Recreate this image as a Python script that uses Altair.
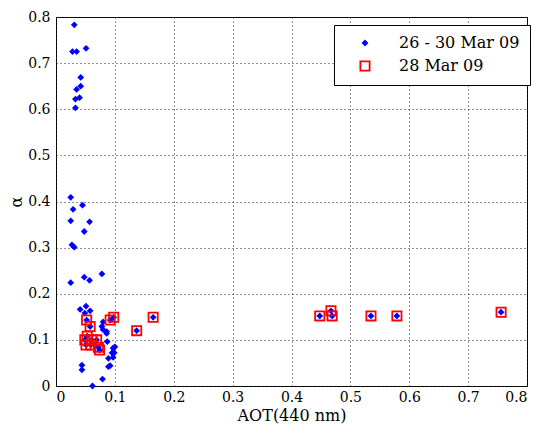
import altair as alt
import pandas as pd

# 26 - 30 Mar 09 (blue dots)
blue_x = [0.031, 0.028, 0.035, 0.051, 0.042, 0.035, 0.042, 0.033, 0.040, 0.033,
          0.025, 0.045, 0.029, 0.025, 0.057, 0.048, 0.027, 0.031,
          0.025, 0.048, 0.057, 0.078,
          0.051, 0.041, 0.058, 0.049, 0.080, 0.078, 0.080, 0.086, 0.087, 0.097,
          0.095, 0.089, 0.097, 0.089, 0.092, 0.044, 0.044, 0.079, 0.062, 0.086,
          0.100, 0.099,
          0.052, 0.058, 0.049, 0.053, 0.051, 0.069, 0.072, 0.074, 0.061, 0.059,
          0.092, 0.098, 0.137, 0.165, 0.448, 0.467, 0.469, 0.535, 0.579, 0.756]
blue_y = [0.783, 0.725, 0.725, 0.732, 0.669, 0.643, 0.650, 0.622, 0.625, 0.603,
          0.409, 0.392, 0.383, 0.358, 0.356, 0.335, 0.306, 0.301,
          0.224, 0.236, 0.229, 0.243,
          0.173, 0.166, 0.163, 0.158, 0.139, 0.129, 0.122, 0.118, 0.096, 0.082,
          0.072, 0.060, 0.062, 0.042, 0.044, 0.045, 0.035, 0.015, 0.000, 0.114,
          0.085, 0.072,
          0.143, 0.129, 0.100, 0.108, 0.089, 0.100, 0.084, 0.078, 0.100, 0.089,
          0.143, 0.149, 0.120, 0.149, 0.152, 0.163, 0.152, 0.152, 0.152, 0.160]

# 28 Mar 09 (red squares)
red_x = [0.052, 0.058, 0.049, 0.053, 0.051, 0.069, 0.072, 0.074, 0.061, 0.059,
         0.092, 0.098, 0.137, 0.165, 0.448, 0.467, 0.469, 0.535, 0.579, 0.756]
red_y = [0.143, 0.129, 0.100, 0.108, 0.089, 0.100, 0.084, 0.078, 0.100, 0.089,
         0.143, 0.149, 0.120, 0.149, 0.152, 0.163, 0.152, 0.152, 0.152, 0.160]

series_names = ["26 - 30 Mar 09", "28 Mar 09"]
tick_values = [0, 0.1, 0.2, 0.3, 0.4, 0.5, 0.6, 0.7, 0.8]

df = pd.DataFrame({
    "aot": blue_x + red_x,
    "alpha": blue_y + red_y,
    "series": [series_names[0]] * len(blue_x) + [series_names[1]] * len(red_x),
})

FONT = "DejaVu Serif"
label_expr = "datum.value == 0 ? '0' : format(datum.value, '.1f')"

leg = alt.Legend(
    title=None, orient="none", legendX=278, legendY=8,
    strokeColor="black", fillColor="white", padding=10,
    labelFont=FONT, labelFontSize=16, labelColor="black",
    symbolStrokeWidth=1.8, rowPadding=6, labelOffset=26,
    symbolOffset=13,
)

chart = alt.Chart(df).mark_point(opacity=1, strokeWidth=1.8).encode(
    x=alt.X("aot:Q", scale=alt.Scale(domain=[0, 0.8], nice=False, zero=False),
            axis=alt.Axis(values=tick_values, title="AOT(440 nm)", labelExpr=label_expr)),
    y=alt.Y("alpha:Q", scale=alt.Scale(domain=[0, 0.8], nice=False, zero=False),
            axis=alt.Axis(values=tick_values, title="α", labelExpr=label_expr)),
    shape=alt.Shape("series:N", scale=alt.Scale(domain=series_names, range=["diamond", "square"]), legend=leg),
    fill=alt.Fill("series:N", scale=alt.Scale(domain=series_names, range=["#0000ff", "transparent"]), legend=leg),
    stroke=alt.Stroke("series:N", scale=alt.Scale(domain=series_names, range=["#0000ff", "#ff0000"]), legend=leg),
    size=alt.Size("series:N", scale=alt.Scale(domain=series_names, range=[18, 85]), legend=leg),
).properties(
    width=471, height=369,
    autosize=alt.AutoSizeParams(type="none"),
    padding={"left": 48, "top": 9, "right": 6, "bottom": 42},
).configure(
    font=FONT,
).configure_legend(
    labelFont=FONT, labelFontSize=16, labelColor="black",
).configure_view(
    stroke="black", strokeWidth=1, fill="white"
).configure_axis(
    domain=False, ticks=False,
    grid=True, gridColor="#222222", gridDash=[1, 3], gridWidth=1, gridOpacity=1,
    labelFont=FONT, labelFontSize=14, labelColor="black",
    titleFont=FONT, titleFontSize=16, titleFontWeight="normal", titleColor="black",
).configure_axisX(
    labelPadding=4, titlePadding=3,
).configure_axisY(
    labelPadding=6, titlePadding=3,
)

chart.save("out.html", embed_options={"renderer": "svg", "actions": False})
